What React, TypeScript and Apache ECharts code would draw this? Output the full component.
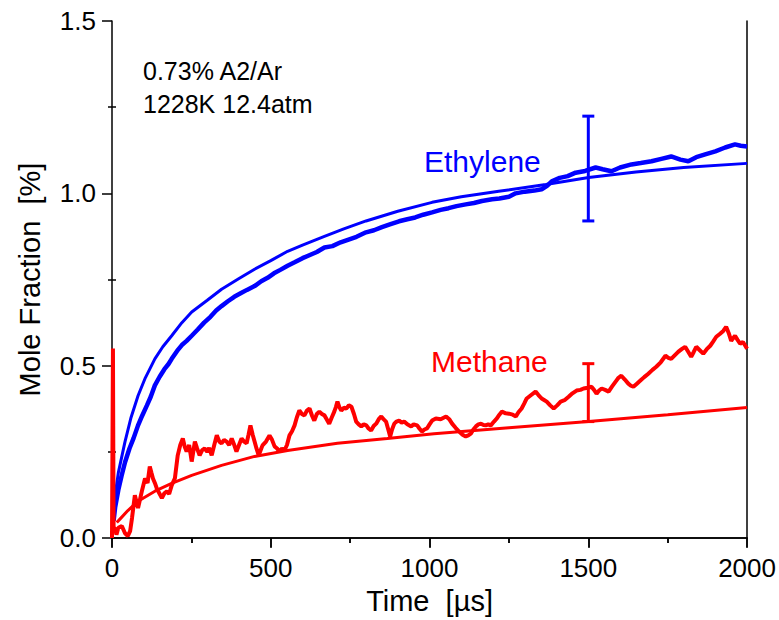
import React, { useEffect, useRef } from "react";
import * as echarts from "echarts";

const xTicks = [0, 500, 1000, 1500, 2000];
const yTicks = [0.0, 0.5, 1.0, 1.5];

const ethyleneExp: number[][] = [
  [5, 0.05], [10, 0.09], [20, 0.14], [30, 0.18], [41, 0.22], [55, 0.26], [68, 0.29], [82, 0.327],
  [95, 0.355], [110, 0.385], [122, 0.41], [135, 0.443], [150, 0.468], [165, 0.49], [178, 0.505],
  [188, 0.52], [205, 0.543], [220, 0.56], [235, 0.572], [251, 0.587], [270, 0.605], [290, 0.625],
  [310, 0.642], [328, 0.66], [345, 0.673], [365, 0.687], [385, 0.7], [405, 0.71], [425, 0.72],
  [449, 0.731], [470, 0.745], [490, 0.755], [510, 0.768], [530, 0.778], [553, 0.79], [575, 0.8],
  [600, 0.812], [625, 0.822], [645, 0.83], [669, 0.843], [694, 0.847], [720, 0.858], [745, 0.866],
  [770, 0.874], [800, 0.887], [825, 0.893], [850, 0.902], [875, 0.91], [904, 0.919], [930, 0.925],
  [955, 0.93], [980, 0.938], [1008, 0.945], [1035, 0.952], [1060, 0.957], [1085, 0.963],
  [1114, 0.968], [1140, 0.972], [1165, 0.978], [1197, 0.983], [1220, 0.985], [1250, 0.99],
  [1271, 1.0], [1300, 1.005], [1330, 1.008], [1353, 1.012], [1370, 1.022], [1385, 1.035],
  [1410, 1.045], [1435, 1.05], [1460, 1.06], [1490, 1.065], [1523, 1.075], [1545, 1.07],
  [1573, 1.064], [1600, 1.075], [1636, 1.084], [1665, 1.088], [1699, 1.093], [1730, 1.1],
  [1761, 1.107], [1790, 1.098], [1815, 1.093], [1840, 1.105], [1868, 1.113], [1900, 1.122],
  [1931, 1.133], [1962, 1.142], [1980, 1.138], [2000, 1.136],
];

const ethyleneModel: number[][] = [
  [5, 0.05], [9, 0.12], [20, 0.19], [41, 0.28], [60, 0.35], [82, 0.413], [105, 0.465], [135, 0.52],
  [160, 0.555], [188, 0.587], [220, 0.625], [251, 0.656], [300, 0.69], [345, 0.722], [400, 0.753],
  [449, 0.78], [500, 0.805], [553, 0.832], [600, 0.85], [669, 0.875], [730, 0.897], [800, 0.92],
  [900, 0.948], [1008, 0.974], [1100, 0.99], [1218, 1.006], [1366, 1.026], [1501, 1.046],
  [1650, 1.062], [1800, 1.075], [2000, 1.087],
];

const methaneExp: number[][] = [
  [0, 0], [3, 0.55], [5, 0.03], [9, 0.029], [14, 0.01], [20, 0.03], [31, 0.035], [41, 0.014],
  [50, 0.006], [57, 0.02], [63, 0.058], [72, 0.124], [82, 0.087], [94, 0.136], [104, 0.173],
  [112, 0.16], [119, 0.208], [124, 0.19], [129, 0.173], [135, 0.16], [141, 0.144], [149, 0.13],
  [157, 0.116], [165, 0.13], [173, 0.136], [180, 0.128], [188, 0.153], [198, 0.173], [207, 0.24],
  [215, 0.27], [223, 0.289], [229, 0.265], [235, 0.251], [243, 0.27], [251, 0.222], [261, 0.28],
  [268, 0.26], [276, 0.24], [284, 0.255], [292, 0.26], [300, 0.25], [306, 0.262], [314, 0.24],
  [322, 0.27], [330, 0.298], [338, 0.28], [345, 0.275], [353, 0.285], [361, 0.28], [369, 0.27],
  [377, 0.289], [385, 0.27], [392, 0.251], [400, 0.27], [408, 0.289], [416, 0.28], [424, 0.275],
  [430, 0.3], [436, 0.327], [443, 0.3], [449, 0.28], [455, 0.26], [462, 0.24], [468, 0.255],
  [474, 0.269], [485, 0.28], [496, 0.298], [504, 0.285], [512, 0.266], [520, 0.26], [527, 0.251],
  [535, 0.26], [543, 0.254], [551, 0.27], [559, 0.298], [567, 0.31], [575, 0.327], [582, 0.35],
  [590, 0.37], [598, 0.36], [606, 0.356], [614, 0.37], [622, 0.376], [630, 0.355], [637, 0.341],
  [645, 0.36], [653, 0.367], [661, 0.36], [669, 0.356], [676, 0.345], [684, 0.332], [692, 0.35],
  [700, 0.367], [705, 0.38], [710, 0.396], [716, 0.38], [722, 0.37], [730, 0.378], [738, 0.376],
  [746, 0.385], [754, 0.381], [762, 0.36], [769, 0.338], [777, 0.33], [785, 0.324], [793, 0.33],
  [801, 0.327], [808, 0.318], [816, 0.312], [824, 0.325], [832, 0.332], [840, 0.345], [848, 0.353],
  [855, 0.345], [863, 0.338], [870, 0.315], [876, 0.295], [882, 0.315], [889, 0.332], [896, 0.338],
  [904, 0.341], [912, 0.335], [920, 0.338], [930, 0.33], [942, 0.324], [950, 0.33], [961, 0.327],
  [968, 0.318], [976, 0.309], [984, 0.315], [992, 0.318], [1000, 0.33], [1008, 0.341],
  [1020, 0.347], [1035, 0.345], [1052, 0.353], [1062, 0.345], [1071, 0.332], [1082, 0.32],
  [1093, 0.309], [1104, 0.3], [1114, 0.295], [1122, 0.298], [1130, 0.303], [1138, 0.315],
  [1146, 0.324], [1154, 0.33], [1162, 0.332], [1170, 0.328], [1177, 0.327], [1185, 0.33],
  [1193, 0.327], [1203, 0.338], [1212, 0.347], [1220, 0.358], [1228, 0.367], [1240, 0.362],
  [1250, 0.361], [1262, 0.358], [1272, 0.353], [1280, 0.365], [1290, 0.376], [1298, 0.39],
  [1306, 0.405], [1320, 0.415], [1334, 0.425], [1343, 0.415], [1353, 0.405], [1362, 0.4],
  [1369, 0.396], [1380, 0.385], [1391, 0.376], [1402, 0.385], [1413, 0.396], [1425, 0.4],
  [1438, 0.41], [1450, 0.42], [1463, 0.428], [1475, 0.43], [1485, 0.434], [1498, 0.436],
  [1510, 0.439], [1518, 0.43], [1526, 0.419], [1534, 0.428], [1542, 0.434], [1553, 0.43],
  [1564, 0.425], [1575, 0.44], [1586, 0.454], [1595, 0.465], [1604, 0.471], [1615, 0.46],
  [1626, 0.448], [1634, 0.442], [1642, 0.439], [1653, 0.448], [1664, 0.457], [1676, 0.467],
  [1689, 0.477], [1702, 0.488], [1714, 0.497], [1728, 0.51], [1743, 0.529], [1752, 0.523],
  [1761, 0.52], [1772, 0.53], [1783, 0.54], [1794, 0.548], [1805, 0.555], [1815, 0.54],
  [1824, 0.526], [1832, 0.54], [1840, 0.555], [1851, 0.545], [1862, 0.535], [1873, 0.548],
  [1884, 0.558], [1893, 0.57], [1903, 0.584], [1914, 0.592], [1925, 0.601], [1934, 0.613],
  [1942, 0.595], [1950, 0.572], [1956, 0.58], [1962, 0.587], [1970, 0.575], [1978, 0.564],
  [1987, 0.569], [1993, 0.56], [2000, 0.549],
];

const methaneModel: number[][] = [
  [15, 0.045], [25, 0.055], [50, 0.08], [82, 0.107], [135, 0.136], [188, 0.159], [251, 0.182],
  [345, 0.211], [449, 0.237], [553, 0.254], [710, 0.275], [867, 0.289], [1014, 0.303],
  [1250, 0.32], [1501, 0.338], [1750, 0.358], [2000, 0.379],
];

// [time, low, high]
const ethyleneErr: number[][] = [[1500, 0.92, 1.224]];
const methaneErr: number[][] = [[1500, 0.338, 0.506]];

const BLUE = "#0000FF";
const RED = "#FF0000";
const FONT = "Liberation Sans, Arial, sans-serif";

function errRender(color: string) {
  return (params: any, api: any) => {
    const x = api.value(0);
    const lo = api.coord([x, api.value(1)]);
    const hi = api.coord([x, api.value(2)]);
    const hw = 6;
    const style = { stroke: color, lineWidth: 3 };
    return {
      type: "group",
      children: [
        { type: "line", shape: { x1: lo[0], y1: lo[1], x2: hi[0], y2: hi[1] }, style },
        { type: "line", shape: { x1: hi[0] - hw, y1: hi[1], x2: hi[0] + hw, y2: hi[1] }, style },
        { type: "line", shape: { x1: lo[0] - hw, y1: lo[1], x2: lo[0] + hw, y2: lo[1] }, style },
      ],
    };
  };
}

export default function App() {
  const ref = useRef<HTMLDivElement>(null);
  useEffect(() => {
    document.body.style.margin = "0";
    if (!ref.current) return;
    const chart = echarts.init(ref.current, null, { renderer: "svg" });
    const axisLine = { show: true, lineStyle: { color: "#000", width: 1.5 } };
    const option: any = {
      animation: false,
      backgroundColor: "#fff",
      grid: { left: 112, right: 30, top: 21, bottom: 80, containLabel: false },
      xAxis: [
        {
          type: "value", position: "bottom", min: 0, max: 2000, interval: 500,
          axisLine, splitLine: { show: false },
          axisTick: { show: true, inside: false, length: 9, lineStyle: { color: "#000", width: 1.5 } },
          minorTick: { show: true, splitNumber: 2, length: 5, lineStyle: { color: "#000", width: 1.5 } },
          axisLabel: {
            color: "#000", fontSize: 26, fontFamily: FONT, margin: 17,
            formatter: (v: number) => (xTicks.includes(v) ? String(v) : ""),
          },
          name: "Time  [\u00b5s]", nameLocation: "middle", nameGap: 46,
          nameTextStyle: { color: "#000", fontSize: 29, fontFamily: FONT },
        },
        {
          type: "value", position: "top", min: 0, max: 2000, interval: 500,
          axisLine, splitLine: { show: false },
          axisTick: { show: true, inside: true, length: 10, lineStyle: { color: "#000", width: 1.5 } },
          minorTick: { show: true, splitNumber: 2, length: 5, lineStyle: { color: "#000", width: 1.5 } },
          axisLabel: { show: false },
        },
      ],
      yAxis: [
        {
          type: "value", position: "left", min: 0, max: 1.5, interval: 0.5,
          axisLine, splitLine: { show: false },
          axisTick: { show: true, inside: false, length: 10, lineStyle: { color: "#000", width: 1.5 } },
          minorTick: { show: true, splitNumber: 2, length: 4, lineStyle: { color: "#000", width: 1.5 } },
          axisLabel: {
            color: "#000", fontSize: 26, fontFamily: FONT, margin: 16,
            formatter: (v: number) => (yTicks.some((t) => Math.abs(t - v) < 1e-9) ? v.toFixed(1) : ""),
          },
          name: "Mole Fraction  [%]", nameLocation: "middle", nameGap: 68, nameRotate: 90,
          nameTextStyle: { color: "#000", fontSize: 29, fontFamily: FONT },
        },
        {
          type: "value", position: "left", min: 0, max: 1.5, interval: 0.5,
          axisLine: { show: false }, splitLine: { show: false },
          axisTick: { show: false, inside: true },
          minorTick: { show: true, splitNumber: 2, length: 4, lineStyle: { color: "#000", width: 1.5 } },
          axisLabel: { show: false },
        },
        {
          type: "value", position: "right", min: 0, max: 1.5, interval: 0.5,
          axisLine, splitLine: { show: false },
          axisTick: { show: false }, axisLabel: { show: false },
        },
      ],
      graphic: [
        { type: "text", left: 143, top: 58, style: { text: "0.73% A2/Ar", fontSize: 25, fontFamily: FONT, fill: "#000" } },
        { type: "text", left: 143, top: 91, style: { text: "1228K 12.4atm", fontSize: 25, fontFamily: FONT, fill: "#000" } },
        { type: "text", left: 424, top: 146, style: { text: "Ethylene", fontSize: 30, fontFamily: FONT, fill: BLUE } },
        { type: "text", left: 431, top: 346, style: { text: "Methane", fontSize: 30, fontFamily: FONT, fill: RED } },
      ],
      series: [
        {
          type: "line", data: ethyleneModel, showSymbol: false, smooth: false,
          lineStyle: { color: BLUE, width: 3 }, itemStyle: { color: BLUE },
        },
        {
          type: "line", data: ethyleneExp, showSymbol: false,
          lineStyle: { color: BLUE, width: 4.5 }, itemStyle: { color: BLUE },
        },
        {
          type: "line", data: methaneModel, showSymbol: false,
          lineStyle: { color: RED, width: 3 }, itemStyle: { color: RED },
        },
        {
          type: "line", data: methaneExp, showSymbol: false,
          lineStyle: { color: RED, width: 4 }, itemStyle: { color: RED },
        },
        { type: "custom", data: ethyleneErr, renderItem: errRender(BLUE), z: 5 },
        { type: "custom", data: methaneErr, renderItem: errRender(RED), z: 5 },
      ],
    };
    chart.setOption(option);
    return () => chart.dispose();
  }, []);
  return <div ref={ref} style={{ width: 779, height: 620 }} />;
}
